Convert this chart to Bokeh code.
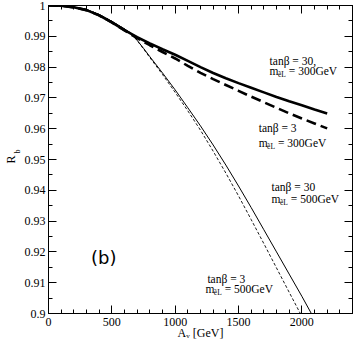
import numpy as np
from bokeh.plotting import figure
from bokeh.models import Range1d, LinearAxis, FixedTicker, Label, CustomJSTickFormatter
from bokeh.embed import file_html
from bokeh.resources import INLINE

# ---------------- data ----------------
x_ticks = [0, 500, 1000, 1500, 2000]
x_tick_labels = ["0", "500", "1000", "1500", "2000"]
y_ticks = [0.9, 0.91, 0.92, 0.93, 0.94, 0.95, 0.96, 0.97, 0.98, 0.99, 1.0]
y_tick_labels = ["0.9", "0.91", "0.92", "0.93", "0.94", "0.95", "0.96",
                 "0.97", "0.98", "0.99", "1"]
x_title = "Aᵥ [GeV]"
y_title_main = "R"
y_title_sub = "b"

# tan(beta)=30, m_eL=300 GeV (thick solid)
x_t30_300 = [0, 100, 200, 300, 400, 500, 600, 700, 800, 900, 1000, 1100,
             1200, 1300, 1400, 1500, 1600, 1700, 1800, 1900, 2000, 2100, 2200]
r_t30_300 = [1.0, 0.99993, 0.9994, 0.9985, 0.9968, 0.9945, 0.9920, 0.9897,
             0.9877, 0.9858, 0.9840, 0.9820, 0.9800, 0.9781, 0.9764, 0.9748,
             0.9733, 0.9718, 0.9703, 0.9689, 0.9676, 0.9662, 0.9649]

# tan(beta)=3, m_eL=300 GeV (thick dashed)
x_t3_300 = [0, 100, 200, 300, 400, 500, 600, 700, 800, 900, 1000, 1100,
            1200, 1300, 1400, 1500, 1600, 1700, 1800, 1900, 2000, 2100, 2200]
r_t3_300 = [1.0, 0.99993, 0.9994, 0.9985, 0.9968, 0.9945, 0.9919, 0.9894,
            0.9871, 0.9849, 0.9828, 0.9804, 0.9781, 0.9761, 0.9742, 0.9723,
            0.9704, 0.9686, 0.9668, 0.9650, 0.9633, 0.9617, 0.9601]

# tan(beta)=30, m_eL=500 GeV (thin solid)
x_t30_500 = [0, 100, 200, 300, 400, 500, 600, 650, 700, 750, 800, 900, 1000,
             1100, 1200, 1300, 1400, 1500, 1600, 1700, 1800, 1900, 2000, 2075]
r_t30_500 = [1.0, 0.99995, 0.9995, 0.9987, 0.9971, 0.9949, 0.9924, 0.9910,
             0.9887, 0.9861, 0.9834, 0.9781, 0.9726, 0.9668, 0.9609, 0.9547,
             0.9482, 0.9414, 0.9344, 0.9272, 0.9200, 0.9128, 0.9056, 0.9000]

# tan(beta)=3, m_eL=500 GeV (thin dashed)
x_t3_500 = [0, 100, 200, 300, 400, 500, 600, 650, 700, 750, 800, 900, 1000,
            1100, 1200, 1300, 1400, 1500, 1600, 1700, 1800, 1900, 1988]
r_t3_500 = [1.0, 0.99995, 0.9995, 0.9987, 0.9971, 0.9949, 0.9924, 0.9910,
            0.9886, 0.9859, 0.9831, 0.9776, 0.9718, 0.9658, 0.9595, 0.9527,
            0.9456, 0.9382, 0.9305, 0.9227, 0.9148, 0.9069, 0.9000]

# ---------------- figure ----------------
X0, X1 = 0, 2400
Y0, Y1 = 0.9, 1.0
W, H = 354, 345
BL, BR, BT, BB = 44, 2, 5, 32

p = figure(width=W, height=H, output_backend="svg", toolbar_location=None,
           x_range=Range1d(X0, X1), y_range=Range1d(Y0, Y1),
           min_border_left=BL, min_border_right=BR,
           min_border_top=BT, min_border_bottom=BB)
p.grid.visible = False
p.outline_line_color = "black"
p.outline_line_width = 1
p.background_fill_color = "white"
p.border_fill_color = "white"

SERIF = "Liberation Serif"

x_minor = list(np.arange(0, 2401, 100))
y_minor = [t + 0.005 for t in y_ticks[:-1]]


def make_formatter(ticks, labels):
    return CustomJSTickFormatter(
        args=dict(t=list(ticks), l=list(labels)),
        code="""
        for (let i = 0; i < t.length; i++) {
            if (Math.abs(t[i] - tick) < 1e-9) { return l[i]; }
        }
        return "";
        """)


def style_axis(ax, ticks, minor, labels, show_labels):
    ax.ticker = FixedTicker(ticks=ticks, minor_ticks=minor)
    ax.major_tick_in = 8
    ax.major_tick_out = 0
    ax.minor_tick_in = 4
    ax.minor_tick_out = 0
    ax.major_tick_line_color = "black"
    ax.minor_tick_line_color = "black"
    ax.axis_line_color = "black"
    ax.axis_line_width = 1
    if show_labels:
        ax.formatter = make_formatter(ticks, labels)
        ax.major_label_text_font = SERIF
        ax.major_label_text_font_size = "12px"
        ax.major_label_text_color = "black"
    else:
        ax.major_label_text_font_size = "0px"
        ax.major_label_standoff = 0
        ax.major_label_text_alpha = 0


def style_title(ax, text, size, standoff):
    ax.axis_label = text
    ax.axis_label_text_font = SERIF
    ax.axis_label_text_font_size = size
    ax.axis_label_text_font_style = "normal"
    ax.axis_label_text_color = "black"
    ax.axis_label_standoff = standoff


xa = p.xaxis[0]
style_axis(xa, x_ticks, x_minor, x_tick_labels, True)
xa.major_label_standoff = 4
style_title(xa, x_title, "12px", -3)

ya = p.yaxis[0]
style_axis(ya, y_ticks, y_minor, y_tick_labels, True)
ya.major_label_standoff = 3
# subscript "b" sits just outside the tick labels, shifted up by leading em spaces
style_title(ya, "\u2003\u2003" + y_title_sub, "8px", 0)

# outer (label-only) axis carrying the main letter "R"
ya2 = LinearAxis(ticker=FixedTicker(ticks=[]), axis_line_color=None,
                 major_tick_line_color=None, minor_tick_line_color=None,
                 major_label_text_font_size="0px", major_label_standoff=0)
style_title(ya2, y_title_main, "12px", -8)
p.add_layout(ya2, "left")

top = LinearAxis()
style_axis(top, x_ticks, x_minor, x_tick_labels, False)
p.add_layout(top, "above")
right = LinearAxis()
style_axis(right, y_ticks, y_minor, y_tick_labels, False)
p.add_layout(right, "right")

# ---------------- curves ----------------
p.line(x_t30_300, r_t30_300, line_color="black", line_width=2.6)
p.line(x_t3_300, r_t3_300, line_color="black", line_width=2.6, line_dash="10 5")
p.line(x_t30_500, r_t30_500, line_color="black", line_width=1)
p.line(x_t3_500, r_t3_500, line_color="black", line_width=0.9, line_dash="3 2")

# ---------------- annotations ----------------
FW = W - BL - BR
FH = H - BT - BB


def dx(px):
    return X0 + (px - BL) * (X1 - X0) / FW


def dy(py):
    return Y1 - (py - BT) * (Y1 - Y0) / FH


def txt(px, py, s, size="11.5px", font=SERIF):
    p.add_layout(Label(x=dx(px), y=dy(py), text=s, text_font=font,
                       text_font_size=size, text_color="black",
                       text_align="left", text_baseline="alphabetic"))


def block(tan_text, tx, ty, mx, my, val):
    txt(tx, ty, tan_text)
    txt(mx, my, "m")
    txt(mx + 8.5, my + 4, "ẽL", size="7.5px")
    txt(mx + 19.5, my, val)


block("tanβ = 30,", 268, 60, 268, 70, "= 300GeV")
block("tanβ = 3", 257, 127, 257, 142, "= 300GeV")
block("tanβ = 30", 270, 186, 270, 198, "= 500GeV")
block("tanβ = 3", 205, 278, 203, 288, "= 500GeV")

txt(87, 257, "(b)", size="18px", font="DejaVu Sans")

open("out.html", "w").write(file_html(p, INLINE))
